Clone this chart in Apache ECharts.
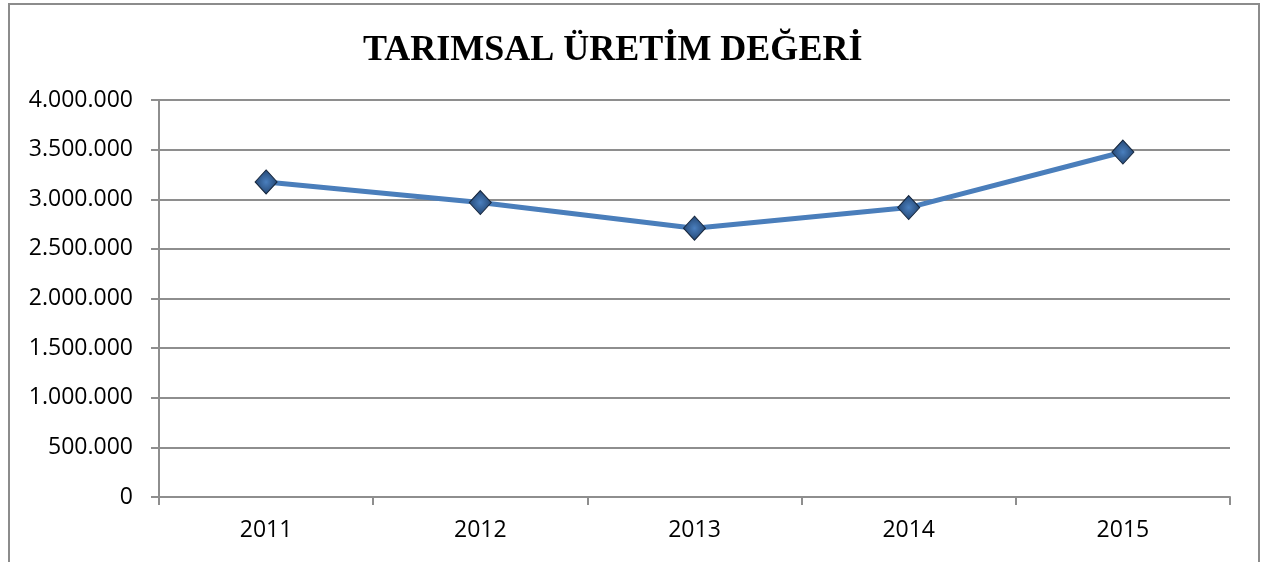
<!DOCTYPE html>
<html>
<head>
<meta charset="utf-8">
<script src="https://cdn.jsdelivr.net/npm/echarts@6/dist/echarts.min.js"></script>
<style>
  html, body { margin: 0; padding: 0; background: #fff; }
  #chart { width: 1268px; height: 562px; }
</style>
</head>
<body>
<div id="chart"></div>
<script>
const titleText = 'TARIMSAL ÜRETİM DEĞERİ';
const years = ['2011', '2012', '2013', '2014', '2015'];
const values = [3174000, 2967000, 2708000, 2916000, 3476000];
const yMin = 0;
const yMax = 4000000;
const yStep = 500000;

function fmt(v) {
  return String(Math.round(v)).replace(/\B(?=(\d{3})+(?!\d))/g, '.');
}

const chart = echarts.init(document.getElementById('chart'), null, { renderer: 'canvas' });
const gridColor = '#8e8e8e';
const labelFont = { fontFamily: 'Open Sans', fontSize: 23, color: '#000' };

chart.setOption({
  animation: false,
  backgroundColor: '#fff',
  graphic: [{
    type: 'rect',
    z: -10,
    shape: { x: 9, y: 4, width: 1250, height: 620 },
    style: { fill: 'none', stroke: '#8c8c8c', lineWidth: 2 }
  }],
  title: {
    text: titleText,
    left: 363,
    top: 33,
    padding: 0,
    textStyle: { fontFamily: 'Liberation Serif', fontWeight: 'bold', fontSize: 36, color: '#000' }
  },
  grid: { left: 159, right: 38, top: 100, bottom: 65, containLabel: false },
  xAxis: {
    type: 'category',
    data: years,
    boundaryGap: true,
    axisLine: { show: true, lineStyle: { color: gridColor, width: 2 } },
    axisTick: { show: true, length: 8, alignWithLabel: false, lineStyle: { color: gridColor, width: 2 } },
    axisLabel: Object.assign({ margin: 22 }, labelFont),
    splitLine: { show: false }
  },
  yAxis: {
    type: 'value',
    min: yMin,
    max: yMax,
    interval: yStep,
    axisLine: { show: true, lineStyle: { color: gridColor, width: 2 } },
    axisTick: { show: true, length: 8, lineStyle: { color: gridColor, width: 2 } },
    axisLabel: Object.assign({ margin: 26, formatter: fmt }, labelFont),
    splitLine: { show: true, lineStyle: { color: gridColor, width: 2 } }
  },
  series: [{
    type: 'line',
    data: values,
    symbol: 'diamond',
    symbolSize: [22, 24],
    lineStyle: { color: '#4a7ebb', width: 5 },
    itemStyle: {
      color: {
        type: 'radial', x: 0.5, y: 0.5, r: 0.6,
        colorStops: [
          { offset: 0, color: '#4a7fbe' },
          { offset: 1, color: '#1c3b64' }
        ]
      },
      borderColor: '#17273d',
      borderWidth: 1
    },
    z: 5
  }]
});
</script>
</body>
</html>
